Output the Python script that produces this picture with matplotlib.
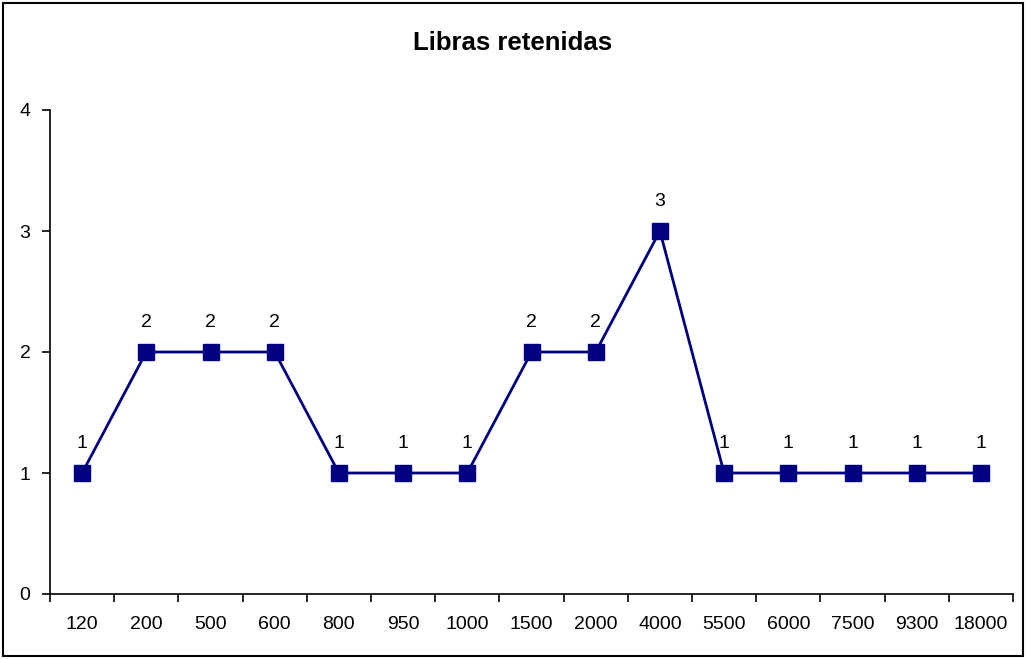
import matplotlib.pyplot as plt
from matplotlib.patches import Rectangle
import numpy as np

plt.rcParams['font.family'] = ['Liberation Sans', 'DejaVu Sans']

categorias = ['120', '200', '500', '600', '800', '950', '1000', '1500',
              '2000', '4000', '5500', '6000', '7500', '9300', '18000']
valores = [1, 2, 2, 2, 1, 1, 1, 2, 2, 3, 1, 1, 1, 1, 1]

fig = plt.figure(figsize=(10.26, 6.59), dpi=100)
ax = fig.add_axes([50 / 1026, 65 / 659, 963 / 1026, 484 / 659])

x = np.arange(len(categorias))
ax.plot(x, valores, color='#000080', lw=2, marker='s', ms=11.5,
        mfc='#000080', mec='#000080', clip_on=False)

# etiquetas de datos
for xi, v in zip(x, valores):
    ax.annotate(str(v), (xi, v), xytext=(0, 21), textcoords='offset points',
                ha='center', va='center', fontsize=14)

ax.set_xlim(-0.5, len(categorias) - 0.5)
ax.set_ylim(0, 4)
ax.set_yticks([0, 1, 2, 3, 4])
ax.set_xticks(x)
ax.set_xticklabels(categorias)
ax.set_xticks(np.arange(-0.5, len(categorias)), minor=True)
ax.tick_params(axis='x', which='major', length=0, pad=16, labelsize=14)
ax.tick_params(axis='x', which='minor', length=6, width=1.2, direction='out')
ax.tick_params(axis='y', length=6, width=1.2, direction='out', pad=8, labelsize=14)

for s in ['top', 'right']:
    ax.spines[s].set_visible(False)
for s in ['left', 'bottom']:
    ax.spines[s].set_linewidth(1.2)

fig.text(0.5, 1 - 43 / 659, 'Libras retenidas', ha='center', va='center',
         fontsize=18.5, fontweight='bold')

# borde del gráfico
fig.patches.append(Rectangle((0.003, 0.004), 0.994, 0.992, transform=fig.transFigure,
                             fill=False, edgecolor='black', lw=1.5))

fig.savefig('out.png', dpi=100)
